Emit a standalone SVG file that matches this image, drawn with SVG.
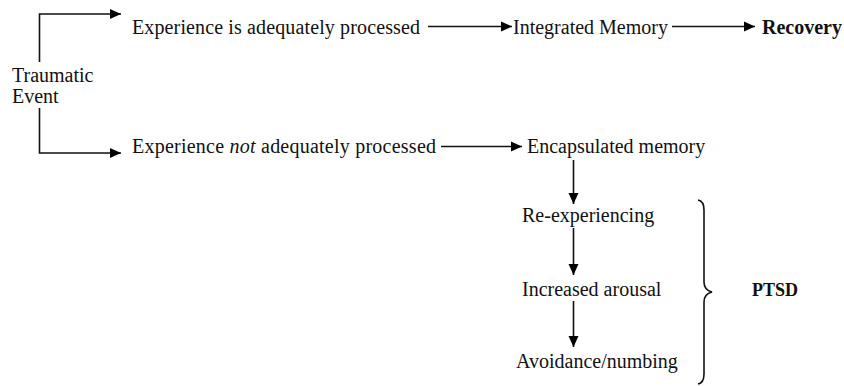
<svg xmlns="http://www.w3.org/2000/svg" width="844" height="386" viewBox="0 0 844 386">
<defs>
<marker id="ah" markerUnits="userSpaceOnUse" markerWidth="12" markerHeight="12" viewBox="0 0 12 12" refX="11" refY="6" orient="auto">
<path d="M0,1 L11,6 L0,11 Z" fill="#000"/>
</marker>
<style>
text{font-family:"Liberation Serif","Times New Roman",serif;font-size:20px;fill:#111;}
.b{font-weight:bold;}
.c{fill:none;stroke:#111;stroke-width:1.6;}
</style>
</defs>
<rect width="844" height="386" fill="#fff"/>
<g id="n-traumatic"><text x="12" y="82">Traumatic<tspan x="12" y="103">Event</tspan></text></g>
<g id="n-adequate"><text x="132" y="34" textLength="288" lengthAdjust="spacing">Experience is adequately processed</text></g>
<g id="n-integrated"><text x="513" y="34">Integrated Memory</text></g>
<g id="n-recovery"><text class="b" x="762" y="34">Recovery</text></g>
<g id="n-notadequate"><text x="132" y="153" textLength="304" lengthAdjust="spacing">Experience <tspan font-style="italic">not</tspan> adequately processed</text></g>
<g id="n-encapsulated"><text x="527" y="153">Encapsulated memory</text></g>
<g id="n-reexp"><text x="522" y="222">Re-experiencing</text></g>
<g id="n-arousal"><text x="522" y="296">Increased arousal</text></g>
<g id="n-avoid"><text x="516" y="368">Avoidance/numbing</text></g>
<g id="n-ptsd"><text class="b" x="752" y="296" style="font-size:18px">PTSD</text></g>
<g id="connectors">
<path class="c" d="M39.5,62 V14 H121" marker-end="url(#ah)"/>
<path class="c" d="M39.5,108 V153 H121" marker-end="url(#ah)"/>
<path class="c" d="M428,26.5 H512" marker-end="url(#ah)"/>
<path class="c" d="M672,26.5 H755" marker-end="url(#ah)"/>
<path class="c" d="M441,146.5 H522" marker-end="url(#ah)"/>
<path class="c" d="M573.5,160 V204" marker-end="url(#ah)"/>
<path class="c" d="M573.5,228 V275" marker-end="url(#ah)"/>
<path class="c" d="M573.5,301 V347" marker-end="url(#ah)"/>
<path class="c" d="M698,200 Q704,201 704,210 V282 Q704,290 712,292 Q704,294 704,302 V374 Q704,383 698,384"/>
</g>
</svg>
